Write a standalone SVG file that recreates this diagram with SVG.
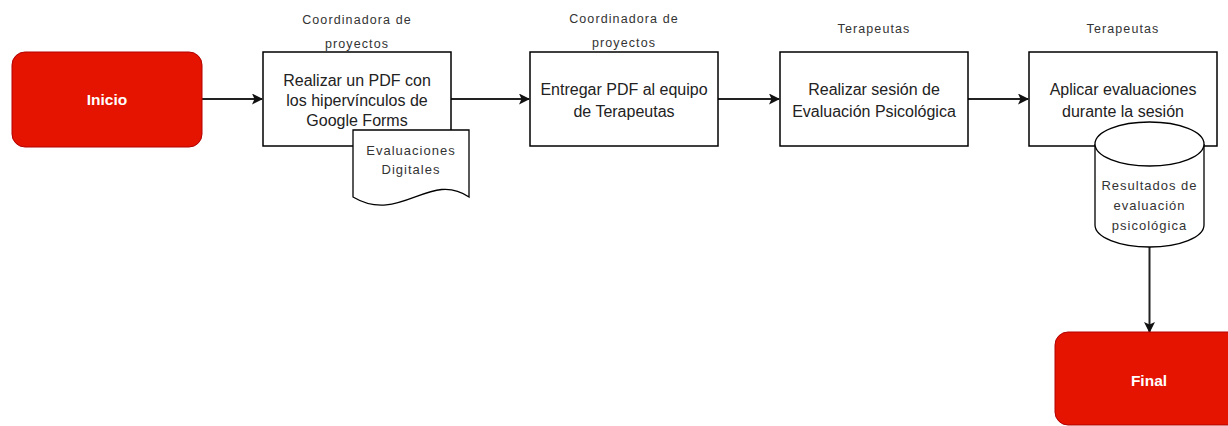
<svg xmlns="http://www.w3.org/2000/svg" width="1228" height="426" viewBox="0 0 1228 426">
<style>
.bg{fill:#ffffff}
.term{fill:#e51400;stroke:#b20000;stroke-width:1}
.termtxt{font-family:"Liberation Sans",Arial,sans-serif;font-size:15.5px;font-weight:bold;fill:#ffffff;text-anchor:middle}
.box{fill:#ffffff;stroke:#000000;stroke-width:1.5}
.main{font-family:"Liberation Sans",Arial,sans-serif;font-size:16px;fill:#222222;text-anchor:middle}
.lbl{font-family:"Liberation Sans",Arial,sans-serif;font-size:12.5px;letter-spacing:1.1px;fill:#333333;text-anchor:middle}
.small{font-family:"Liberation Sans",Arial,sans-serif;font-size:13px;letter-spacing:1px;fill:#333333;text-anchor:middle}
.shape{fill:#ffffff;stroke:#000000;stroke-width:1.3}
.conn{fill:none;stroke:#222222;stroke-width:2}
</style>
<defs>
<marker id="arr" markerWidth="11" markerHeight="11" refX="10" refY="5.5" orient="auto" markerUnits="userSpaceOnUse">
<path d="M0,0 L11,5.5 L0,11 L2.5,5.5 Z" fill="#111111"/>
</marker>
</defs>
<rect class="bg" x="0" y="0" width="1228" height="426"/>

<g id="connectors">
<line class="conn" x1="202" y1="99" x2="262" y2="99" marker-end="url(#arr)"/>
<line class="conn" x1="451" y1="99" x2="529" y2="99" marker-end="url(#arr)"/>
<line class="conn" x1="718" y1="99" x2="779" y2="99" marker-end="url(#arr)"/>
<line class="conn" x1="968" y1="99" x2="1028" y2="99" marker-end="url(#arr)"/>
<line class="conn" x1="1149.5" y1="247" x2="1149.5" y2="332" marker-end="url(#arr)"/>
</g>

<g id="inicio">
<rect class="term" x="12" y="52" width="190" height="95" rx="13" ry="13"/>
<text class="termtxt" x="107" y="105">Inicio</text>
</g>

<g id="realizar-pdf">
<text class="lbl" x="357" y="24">Coordinadora de</text>
<text class="lbl" x="357" y="48">proyectos</text>
<rect class="box" x="263" y="52" width="188" height="94"/>
<text class="main" x="357" y="86">Realizar un PDF con</text>
<text class="main" x="357" y="106">los hipervínculos de</text>
<text class="main" x="357" y="126">Google Forms</text>
</g>

<g id="evaluaciones-digitales">
<path class="shape" d="M353,130 L469,130 L469,197 C430,170 400,225 353,197 Z"/>
<text class="small" x="411" y="155">Evaluaciones</text>
<text class="small" x="411" y="174">Digitales</text>
</g>

<g id="entregar-pdf">
<text class="lbl" x="624" y="23">Coordinadora de</text>
<text class="lbl" x="624" y="47">proyectos</text>
<rect class="box" x="530" y="52" width="188" height="94"/>
<text class="main" x="624" y="95">Entregar PDF al equipo</text>
<text class="main" x="624" y="117">de Terapeutas</text>
</g>

<g id="realizar-sesion">
<text class="lbl" x="874" y="33">Terapeutas</text>
<rect class="box" x="780" y="52" width="188" height="94"/>
<text class="main" x="874" y="95">Realizar sesión de</text>
<text class="main" x="874" y="117">Evaluación Psicológica</text>
</g>

<g id="aplicar-evaluaciones">
<text class="lbl" x="1123" y="33">Terapeutas</text>
<rect class="box" x="1029" y="52" width="188" height="94"/>
<text class="main" x="1123" y="95">Aplicar evaluaciones</text>
<text class="main" x="1123" y="117">durante la sesión</text>
</g>

<g id="resultados">
<path class="shape" d="M1095,144 A54.5,22 0 0 1 1204,144 L1204,225 A54.5,22 0 0 1 1095,225 Z"/>
<path class="shape" d="M1095,144 A54.5,22 0 0 0 1204,144" fill="none"/>
<text class="small" x="1149.5" y="190">Resultados de</text>
<text class="small" x="1149.5" y="210">evaluación</text>
<text class="small" x="1149.5" y="230">psicológica</text>
</g>

<g id="final">
<rect class="term" x="1055" y="332" width="188" height="93" rx="13" ry="13"/>
<text class="termtxt" x="1149" y="386">Final</text>
</g>
</svg>
